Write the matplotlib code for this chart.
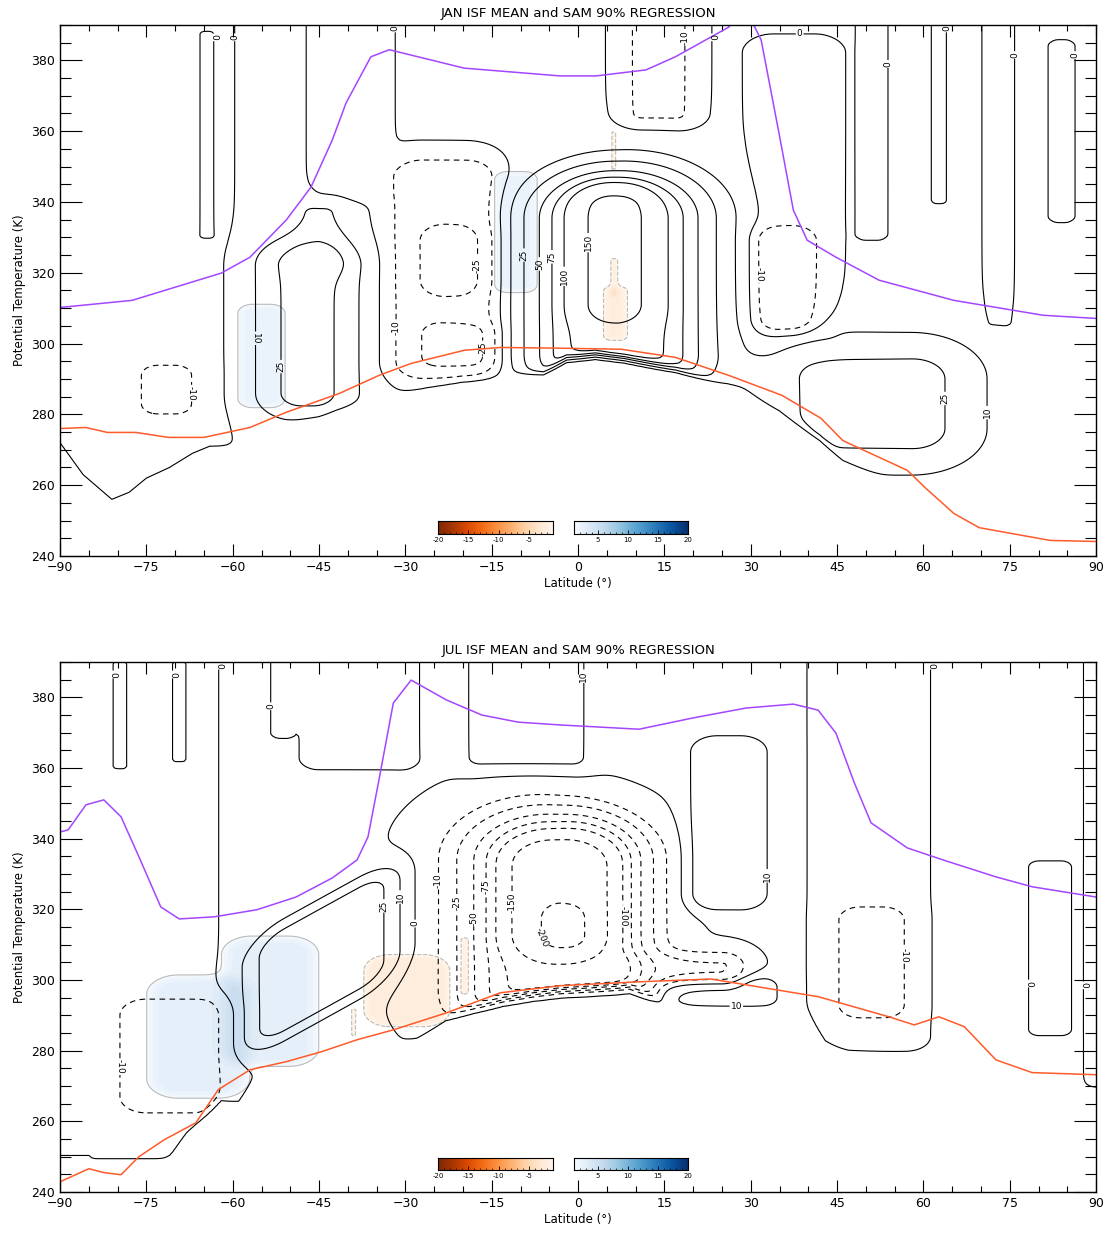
import numpy as np
import matplotlib
matplotlib.use('Agg')
import matplotlib.pyplot as plt

# ---------------- data ----------------
lat_ticks = [-90, -75, -60, -45, -30, -15, 0, 15, 30, 45, 60, 75, 90]
th_ticks = [240, 260, 280, 300, 320, 340, 360, 380]
isf_levels = [-200, -150, -100, -75, -50, -25, -10, 0, 10, 25, 50, 75, 100, 150, 200]

# JAN tropopause (purple) and surface (orange) lines
jan_trop_lat = [-90, -77.5, -62, -57, -50.7, -46.4, -42.7, -40.3, -36, -32.8, -19.8, -3.1, 3.1, 11.8, 16.9, 26.2, 26.8,
                30.2, 31.8, 34.9, 37.4, 39.8, 44.8, 52.3, 65.3, 80.8, 90]
jan_trop_th = [310.2, 312.2, 319.9, 324.4, 334.9, 344.2, 357.5, 368, 381, 383, 377.8, 375.6, 375.6, 377.3, 381, 389.4,
               391, 391, 385.8, 359.5, 337.7, 329.2, 324.4, 317.9, 312.2, 308, 307.1]
jan_sfc_lat = [-90, -85.5, -81.8, -76.8, -71.2, -65, -57, -50.7, -41.5, -34.6, -29, -19.8, -13.5, -3.1, 7.5, 16.9,
               26.2, 35.4, 42.2, 46, 57.2, 60.3, 65.3, 69.7, 82, 90]
jan_sfc_th = [276, 276.3, 274.9, 274.9, 273.5, 273.5, 276.3, 280.6, 285.9, 291, 294.4, 298.1, 298.9, 298.7, 298.4,
              296.1, 291, 285.4, 278.9, 272.6, 264.2, 259.3, 252, 248, 244.4, 244.1]

# JUL tropopause and surface lines
jul_trop_lat = [-90, -88.6, -85.5, -82.4, -79.4, -76.3, -72.5, -69.3, -63.2, -55.8, -49, -42.7, -38.4, -36.5, -34.6,
                -32.1, -29, -22.9, -16.7, -10.4, -3.1, 10.6, 20, 29.2, 37.4, 41.7, 44.8, 48, 50.9, 57.2, 63.4, 72.6,
                78.9, 90]
jul_trop_th = [341.9, 342.5, 349.6, 351, 346.2, 334.9, 320.7, 317.3, 317.9, 319.9, 323.5, 328.9, 334, 340.5, 356.6,
               378.4, 384.9, 379.3, 375, 373, 372.2, 371, 374.2, 377, 378.1, 376.4, 369.9, 355.8, 344.5, 337.4, 334,
               329.2, 326.4, 323.5]
jul_sfc_lat = [-90, -85, -82.4, -79.4, -76.3, -71.9, -66.4, -62.5, -57, -50.7, -44.6, -38.4, -32.1, -22.9, -13.5, -3.1,
               10.6, 23.1, 32.3, 41.7, 54, 58.4, 62.7, 67.1, 72.6, 78.9, 90]
jul_sfc_th = [242.9, 246.6, 245.5, 244.9, 250, 254.8, 259.6, 269, 274.6, 276.9, 279.7, 283.1, 285.9, 290.7, 296.4,
              298.4, 299.5, 300.3, 297.8, 295.3, 289.6, 287.3, 289.6, 286.8, 277.4, 273.8, 273.2]

# lower edge of the data (where the streamfunction drops to zero)
jan_ground_lat = [-90, -86, -81, -78, -75, -71, -67, -64, -60, -56, -50, -45, -42, -35, -26, -20, -13, -6, -2, 3, 8,
                  17, 26, 35, 42, 46, 57, 60, 65, 70, 80, 90]
jan_ground_th = [272, 263, 256, 258, 262, 265, 269, 271, 271, 273, 277, 279, 281, 284, 288, 290, 291, 292, 296, 297,
                 296, 293, 288, 281, 273, 267, 258, 253, 246, 242, 241, 241]
jul_ground_lat = [-90, -85, -82, -76, -71, -68, -65, -62, -59, -56, -53, -50, -46, -40, -33, -28, -23, -18, -13, -8,
                  -3, 3, 9, 13, 17, 20, 30, 39, 43, 47, 55, 62, 70, 80, 90]
jul_ground_th = [250, 250, 241, 242, 250, 257, 262, 267, 266, 272, 277, 280, 283, 284, 280, 283, 289.5, 292.5, 295,
                 296.5, 297.5, 298, 298.5, 295.5, 292, 291, 291, 293, 283, 279, 277, 279, 276, 271, 270]

# streamfunction cells (rounded boxes): centre, half widths, corner radius, amplitude,
# edge softness on the west / east side, tilt of the box (K per degree)
jan_cell_lat = [7, 6.2, -23.2, -22, -21, -47, -45, -71.5, 36, 37.5, 14, -39.5, -64.5, 51, 62.7, 73, 84, 51, -80.25]
jan_cell_th = [316.2, 325, 321, 323.5, 299.5, 304, 330, 287, 318, 341, 380, 375, 359, 365, 370, 352.5, 360, 283, 330]
jan_cell_hlat = [12.7, 6.2, 8.8, 5, 6, 7, 4, 4.5, 5, 7.5, 6, 6.5, 1, 2, 0.8, 2, 1.5, 17, 19.75]
jan_cell_hth = [31.2, 20, 31, 9.5, 6, 24, 10, 7, 15, 45, 18, 35, 29, 35, 30, 47.5, 25, 17, 95]
jan_cell_rc = [12, 6, 5, 4, 3, 6, 3, 3, 4, 4, 3, 3, 0.5, 1, 0.5, 1, 1, 10, 2]
jan_cell_amp = [120, 50, -20, -16, -14, 33, 12, -16, -17, -4, -13, -3, 4, -3, -3, -3, -3, 32, -2]
jan_cell_sw = [5.5, 3, 3, 2.5, 2, 4.5, 3, 2, 2, 1.5, 2, 1.5, 0.6, 1, 0.6, 1, 1, 8, 1.5]
jan_cell_se = [6.4, 3, 3, 2.5, 2, 4.5, 3, 2, 2, 1.5, 2, 1.5, 0.6, 1, 0.6, 1, 1, 7, 1.5]
jan_cell_tilt = [0, 0, 0, 0, 0, 0, 0, 0, 0, 0, 0, 0, 0, 0, 0, 0, 0, 0, 0]
jan_base = 0.5

jul_cell_lat = [-3.5, -3.3, -2.3, 16.5, -9, 26.2, 24, -44.5, -70.5, 51, 50.5, -81.5, -79.6, -69.3, -51.3, -38, 82, 92]
jul_cell_th = [315.5, 322.5, 315, 303, 382, 344.5, 296.5, 306, 278.5, 305, 340.5, 325, 375, 376, 380, 381, 309, 325]
jul_cell_hlat = [13.5, 8.9, 3.5, 11.5, 11, 7, 11, 12.5, 9.5, 6, 9.5, 18.5, 1, 1, 1.5, 9, 3, 3.5]
jul_cell_hth = [30.5, 17.5, 5.5, 4, 22, 25, 4.5, 16, 16.5, 16, 59.5, 75, 15, 14, 11, 20, 24, 75]
jul_cell_rc = [12, 8, 3, 3, 3, 5, 3, 6, 5, 4, 3, 2, 0.5, 0.5, 1, 2, 1, 1]
jul_cell_amp = [-120, -75, -25, -30, 13, 16, 15, 33, -15, -13, -3, -2, 4, 4, -3, -4, -2.5, -3]
jul_cell_sw = [6.3, 3, 2.5, 2.5, 2, 1.8, 1.5, 3, 3, 2, 1.5, 1, 0.6, 0.6, 0.7, 1.5, 1, 0.8]
jul_cell_se = [4.5, 3, 2.5, 2.5, 2, 1.8, 1.5, 3, 3, 2, 1.5, 1, 0.6, 0.6, 0.7, 1.5, 1, 0.8]
jul_cell_tilt = [0, 0, 0, 0, 0, 0, 0, 0.9, 0, 0, 0, 0, 0, 0, 0, 0, 0, 0]
jul_base = 0.5

# SAM regression patches (shaded)
jan_reg_lat = [-55, -10.8, 6.5, 6.3, 6.2]
jan_reg_th = [296.5, 331.5, 308.5, 318.5, 354.5]
jan_reg_hlat = [4, 3.6, 2, 0.6, 0.4]
jan_reg_hth = [14.5, 17, 7.5, 5.5, 5.5]
jan_reg_amp = [2.2, 2.2, -2.2, -2.0, -1.6]
jan_reg_soft = [1.0, 1.0, 0.8, 0.4, 0.3]

jul_reg_lat = [-66, -53.5, -29.75, -19.7, -39]
jul_reg_th = [284, 294, 297, 304, 288]
jul_reg_hlat = [8.5, 8, 7.25, 0.7, 0.5]
jul_reg_hth = [17, 18, 10, 8, 4]
jul_reg_amp = [2.8, 2.8, -2.5, -1.8, -1.5]
jul_reg_soft = [1.5, 1.5, 1.0, 0.4, 0.3]

# ---------------- grid and helpers ----------------
lat = np.arange(-90, 90.01, 0.5)
th = np.arange(240, 390.01, 0.5)
LAT, TH = np.meshgrid(lat, th)


def rbox_dist(dx, dy, hx, hy, r):
    r = min(r, hx, hy)
    qx = np.abs(dx) - hx + r
    qy = np.abs(dy) - hy + r
    outside = np.hypot(np.maximum(qx, 0), np.maximum(qy, 0))
    inside = np.minimum(np.maximum(qx, qy), 0)
    return outside + inside - r


def isf_field(c_lat, c_th, hlat, hth, rc, amp, sw, se, tilt, base, g_lat, g_th):
    f = np.full_like(LAT, base)
    for a, t, hx, hy, r, am, s1, s2, tl in zip(c_lat, c_th, hlat, hth, rc, amp, sw, se, tilt):
        dx = LAT - a
        dy = TH - t - tl * dx
        d = rbox_dist(dx, dy, hx, hy, r)
        s = s1 + (s2 - s1) * 0.5 * (1 + np.tanh(dx / hx))
        f += am * 0.5 * (1 - np.tanh(d / s))
    g = np.interp(lat, g_lat, g_th)
    mask = 0.5 * (1 + np.tanh((TH - g[None, :]) / 1.2))
    return f * mask + 1.5 * (1 - mask)


def reg_field(c_lat, c_th, hlat, hth, amp, soft):
    f = np.zeros_like(LAT)
    for a, t, hx, hy, am, s in zip(c_lat, c_th, hlat, hth, amp, soft):
        d = rbox_dist(LAT - a, TH - t, hx, hy, min(hx, hy) * 0.6)
        f += am * 0.5 * (1 - np.tanh(d / s))
    return f


def draw_cbar(fig, rect, cmap, vmin, vmax, ticks):
    cax = fig.add_axes(rect)
    grad = np.linspace(vmin, vmax, 256)[None, :]
    cax.imshow(grad, aspect='auto', cmap=cmap, extent=[vmin, vmax, 0, 1], origin='lower')
    cax.set_yticks([])
    cax.set_xticks(ticks)
    cax.set_xticklabels([str(t) for t in ticks], fontsize=5)
    cax.set_xticks(np.arange(vmin, vmax + 0.1, 1), minor=True)
    cax.tick_params(axis='x', which='major', direction='in', length=3, width=0.6, pad=2)
    cax.tick_params(axis='x', which='minor', direction='in', length=1.5, width=0.5)
    for sp in cax.spines.values():
        sp.set_linewidth(0.8)


def panel(ax, title, field, reg, trop_lat, trop_th, sfc_lat, sfc_th):
    # shading of the regression
    ax.contourf(LAT, TH, np.where(reg > 0, reg, np.nan), levels=np.linspace(1, 20, 39),
                cmap='Blues', vmin=1, vmax=20, extend='max')
    ax.contourf(LAT, TH, np.where(reg < 0, reg, np.nan), levels=np.linspace(-20, -1, 39),
                cmap='Oranges_r', vmin=-20, vmax=-1, extend='min')
    ax.contour(LAT, TH, reg, levels=[-1, 1], colors='#bbbbbb', linewidths=0.8)

    cs = ax.contour(LAT, TH, field, levels=isf_levels, colors='black', linewidths=0.8,
                    negative_linestyles=(0, (5, 4)))
    ax.clabel(cs, fmt='%d', fontsize=6.5, inline=True, inline_spacing=1)

    ax.plot(trop_lat, trop_th, color='#a445ff', lw=1.1)
    ax.plot(sfc_lat, sfc_th, color='#ff5a28', lw=1.1)

    ax.set_xlim(-90, 90)
    ax.set_ylim(240, 390)
    ax.set_xticks(lat_ticks)
    ax.set_yticks(th_ticks)
    ax.set_xticks(np.arange(-90, 91, 5), minor=True)
    ax.set_yticks(np.arange(240, 391, 5), minor=True)
    ax.tick_params(axis='x', which='major', direction='in', length=8.5, width=0.8, top=True, labelsize=9)
    ax.tick_params(axis='x', which='minor', direction='in', length=4.5, width=0.8, top=True)
    ax.tick_params(axis='y', which='major', direction='in', length=15.5, width=0.8, right=True, labelsize=9)
    ax.tick_params(axis='y', which='minor', direction='in', length=8, width=0.8, right=True)
    ax.set_xlabel('Latitude (°)', fontsize=8.5, labelpad=2)
    ax.set_ylabel('Potential Temperature (K)', fontsize=8.5, labelpad=4)
    ax.set_title(title, fontsize=9.5, pad=6)
    for sp in ax.spines.values():
        sp.set_linewidth(1.0)


jan_field = isf_field(jan_cell_lat, jan_cell_th, jan_cell_hlat, jan_cell_hth, jan_cell_rc, jan_cell_amp,
                      jan_cell_sw, jan_cell_se, jan_cell_tilt, jan_base, jan_ground_lat, jan_ground_th)
jul_field = isf_field(jul_cell_lat, jul_cell_th, jul_cell_hlat, jul_cell_hth, jul_cell_rc, jul_cell_amp,
                      jul_cell_sw, jul_cell_se, jul_cell_tilt, jul_base, jul_ground_lat, jul_ground_th)
jan_reg = reg_field(jan_reg_lat, jan_reg_th, jan_reg_hlat, jan_reg_hth, jan_reg_amp, jan_reg_soft)
jul_reg = reg_field(jul_reg_lat, jul_reg_th, jul_reg_hlat, jul_reg_hth, jul_reg_amp, jul_reg_soft)

fig = plt.figure(figsize=(11.12, 12.35), dpi=100)
ax1 = fig.add_axes([0.054, 0.5498, 0.9317, 0.43])
ax2 = fig.add_axes([0.054, 0.0348, 0.9317, 0.4291])

panel(ax1, 'JAN ISF MEAN and SAM 90% REGRESSION', jan_field, jan_reg,
      jan_trop_lat, jan_trop_th, jan_sfc_lat, jan_sfc_th)
panel(ax2, 'JUL ISF MEAN and SAM 90% REGRESSION', jul_field, jul_reg,
      jul_trop_lat, jul_trop_th, jul_sfc_lat, jul_sfc_th)

draw_cbar(fig, [0.3939, 0.5676, 0.1034, 0.0105], 'Oranges_r', -20, -1, [-20, -15, -10, -5])
draw_cbar(fig, [0.5162, 0.5676, 0.1025, 0.0105], 'Blues', 1, 20, [5, 10, 15, 20])
draw_cbar(fig, [0.3939, 0.0526, 0.1034, 0.0097], 'Oranges_r', -20, -1, [-20, -15, -10, -5])
draw_cbar(fig, [0.5162, 0.0526, 0.1025, 0.0097], 'Blues', 1, 20, [5, 10, 15, 20])

fig.savefig('out.png', dpi=100)
